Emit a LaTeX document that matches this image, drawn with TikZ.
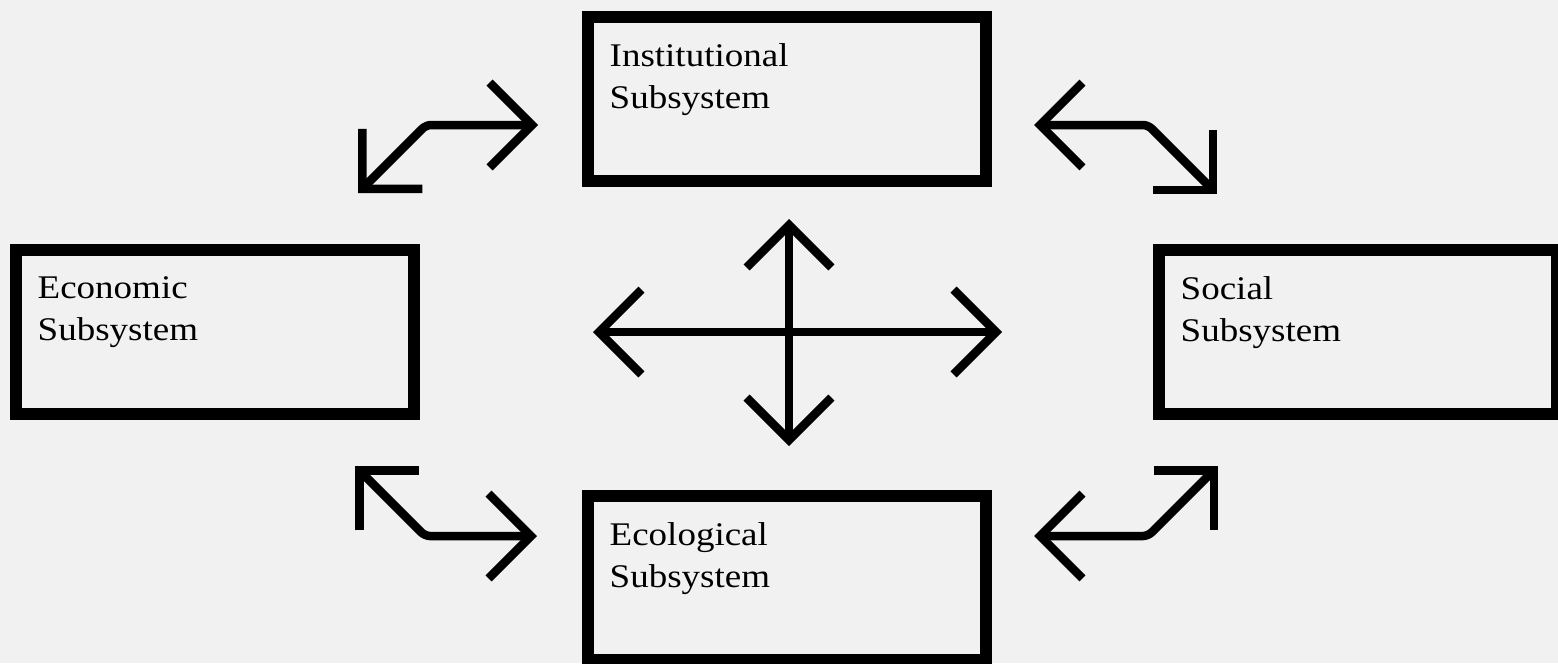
\documentclass[tikz,border=0pt]{standalone}
\usepackage{fontspec}
\setmainfont{Liberation Serif}[FakeStretch=1.12]
\usetikzlibrary{arrows.meta}
\definecolor{bg}{HTML}{F1F1F1}

\begin{document}
\begin{tikzpicture}[
    subsys/.style={draw, line width=0.12cm, minimum width=3.98cm, minimum height=1.64cm,
        label={[anchor=north west, inner sep=0pt, align=left, xshift=0.27cm, yshift=-0.32cm,
            font=\fontsize{9.4pt}{12pt}\selectfont]north west:{#1}}},
    link/.style={line width=0.085cm, rounded corners=0.05cm,
        {Straight Barb[angle=90:0.6cm]}-{Straight Barb[angle=90:0.6cm]}}
]
    \clip (0,0) rectangle (15.58,6.63);
    \fill[bg] (0,0) rectangle (15.58,6.63);

    % the four subsystems
    \node[subsys={Institutional\\Subsystem}] (Inst) at (7.87,5.64) {};
    \node[subsys={Economic\\Subsystem}] (Econ) at (2.15,3.31) {};
    \node[subsys={Social\\Subsystem}] (Soc) at (13.58,3.31) {};
    \node[subsys={Ecological\\Subsystem}] (Ecol) at (7.87,0.85) {};

    % end points of the links
    \coordinate (IE_1) at (5.38,5.38);
    \coordinate (IE_2) at (4.26,5.38);
    \coordinate (IE_3) at (3.58,4.70);
    \coordinate (IS_1) at (10.34,5.38);
    \coordinate (IS_2) at (11.48,5.38);
    \coordinate (IS_3) at (12.17,4.69);
    \coordinate (EE_1) at (5.37,1.27);
    \coordinate (EE_2) at (4.25,1.27);
    \coordinate (EE_3) at (3.55,1.97);
    \coordinate (ES_1) at (10.34,1.27);
    \coordinate (ES_2) at (11.48,1.27);
    \coordinate (ES_3) at (12.18,1.97);
    \coordinate (C_UP) at (7.89,4.44);
    \coordinate (C_DOWN) at (7.89,2.17);
    \coordinate (C_LEFT) at (5.93,3.31);
    \coordinate (C_RIGHT) at (10.02,3.31);

    \draw[link] (IE_1) -- (IE_2) -- (IE_3);
    \draw[link] (IS_1) -- (IS_2) -- (IS_3);
    \draw[link] (EE_1) -- (EE_2) -- (EE_3);
    \draw[link] (ES_1) -- (ES_2) -- (ES_3);
    \draw[link] (C_UP) -- (C_DOWN);
    \draw[link] (C_LEFT) -- (C_RIGHT);

\end{tikzpicture}
\end{document}
